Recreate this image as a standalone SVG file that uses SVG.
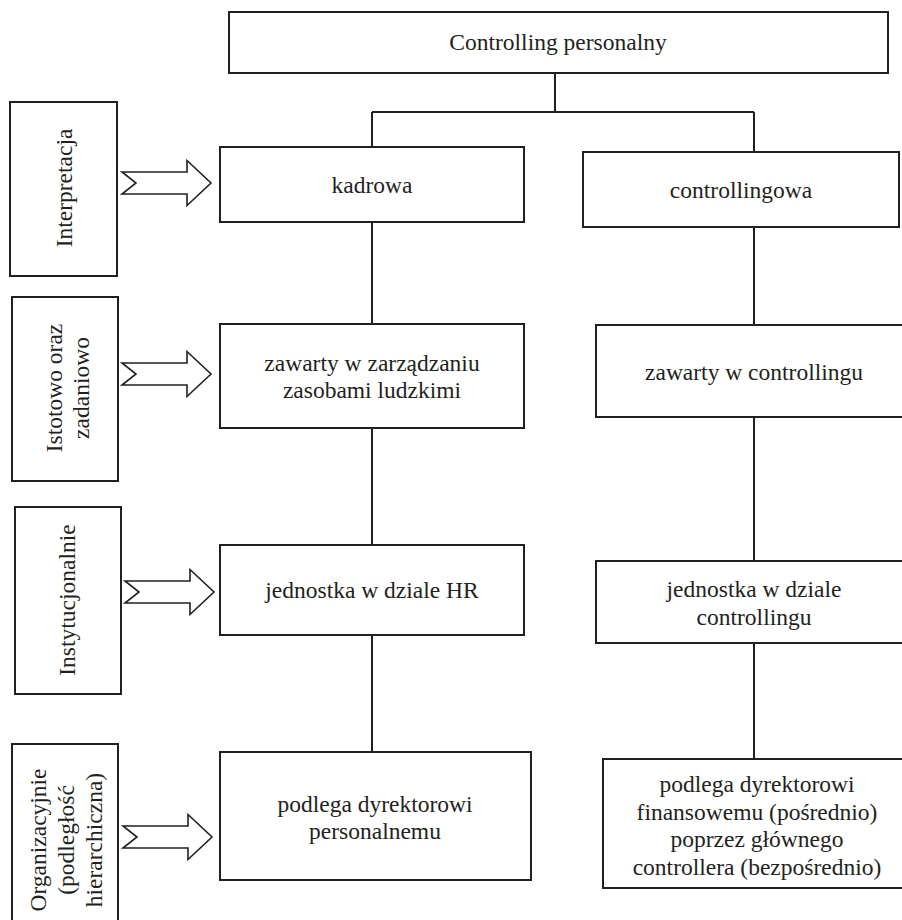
<svg xmlns="http://www.w3.org/2000/svg" width="902" height="920" viewBox="0 0 902 920">
<style>
.box{fill:#fff;stroke:#231f20;stroke-width:2}
.ln{fill:none;stroke:#231f20;stroke-width:2}
.arr{fill:#fff;stroke:#231f20;stroke-width:1.6;stroke-linejoin:miter}
.t{font-family:'Liberation Serif',serif;font-size:23.5px;fill:#231f20;text-anchor:middle}
</style>
<defs>
<path id="blk" d="M0,-11 L65,-11 L65,-22.5 L89,0 L65,22.5 L65,11 L0,11 L14,0 Z"/>
</defs>
<rect width="902" height="920" fill="#fff"/>
<g id="connectors">
<path class="ln" d="M555,73 V112 M372,112 H754 M372,112 V147 M754,112 V152"/>
<path class="ln" d="M372,222 V324 M372,428 V545 M372,635 V752"/>
<path class="ln" d="M754,227 V325 M754,417 V561 M754,643 V759"/>
<use href="#blk" class="arr" transform="translate(122,183)"/>
<use href="#blk" class="arr" transform="translate(122,374)"/>
<use href="#blk" class="arr" transform="translate(125,592)"/>
<use href="#blk" class="arr" transform="translate(123,837)"/>
</g>
<g class="t" font-family="Liberation Serif, serif">
<g id="root"><rect class="box" x="229" y="12" width="659" height="61"/><text x="558" y="50">Controlling personalny</text></g>
<g id="lab1"><rect class="box" x="10" y="102" width="107" height="174"/><text transform="translate(72,188) rotate(-90)">Interpretacja</text></g>
<g id="lab2"><rect class="box" x="12" y="297" width="106" height="184"/><text transform="translate(62,388) rotate(-90)">Istotowo oraz</text><text transform="translate(89,388) rotate(-90)">zadaniowo</text></g>
<g id="lab3"><rect class="box" x="15" y="507" width="106" height="187"/><text transform="translate(75,600) rotate(-90)">Instytucjonalnie</text></g>
<g id="lab4"><rect class="box" x="12" y="744" width="106" height="190"/><text transform="translate(46,840) rotate(-90)">Organizacyjnie</text><text transform="translate(74,840) rotate(-90)">(podległość</text><text transform="translate(102,840) rotate(-90)">hierarchiczna)</text></g>
<g id="kadrowa"><rect class="box" x="220" y="147" width="304" height="75"/><text x="372" y="193">kadrowa</text></g>
<g id="controllingowa"><rect class="box" x="583" y="152" width="316" height="75"/><text x="741" y="198">controllingowa</text></g>
<g id="zzl"><rect class="box" x="220" y="324" width="304" height="104"/><text x="372" y="371">zawarty w zarządzaniu</text><text x="372" y="398">zasobami ludzkimi</text></g>
<g id="zc"><rect class="box" x="596" y="325" width="316" height="92"/><text x="754" y="380">zawarty w controllingu</text></g>
<g id="jhr"><rect class="box" x="220" y="545" width="304" height="90"/><text x="372" y="598">jednostka w dziale HR</text></g>
<g id="jc"><rect class="box" x="596" y="561" width="316" height="82"/><text x="754" y="597">jednostka w dziale</text><text x="754" y="625">controllingu</text></g>
<g id="pdp"><rect class="box" x="220" y="752" width="311" height="128"/><text x="375" y="812">podlega dyrektorowi</text><text x="375" y="839">personalnemu</text></g>
<g id="pdf"><rect class="box" x="603" y="759" width="304" height="129"/><text x="757" y="792">podlega dyrektorowi</text><text x="757" y="820">finansowemu (pośrednio)</text><text x="757" y="847">poprzez głównego</text><text x="757" y="875">controllera (bezpośrednio)</text></g>
</g>
</svg>
